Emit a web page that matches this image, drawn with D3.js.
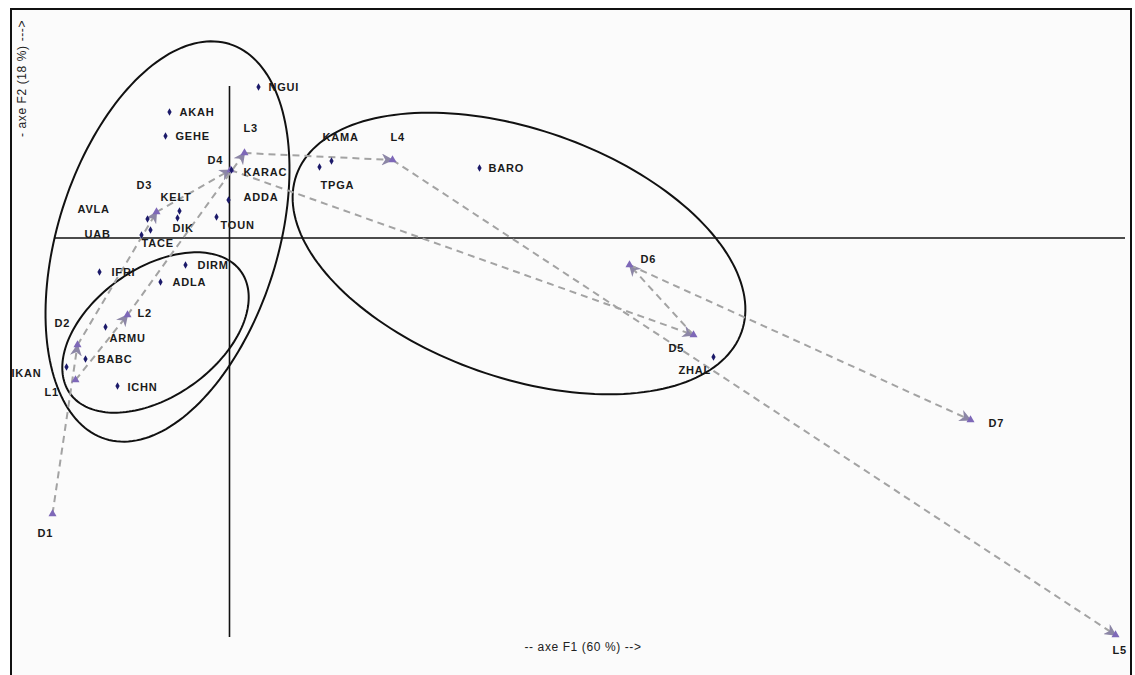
<!DOCTYPE html>
<html>
<head>
<meta charset="utf-8">
<script src="https://cdn.jsdelivr.net/npm/d3@7"></script>
<style>
  html, body { margin: 0; padding: 0; background: #ffffff; }
  svg { display: block; }
  text { font-family: "Liberation Sans", Arial, sans-serif; }
</style>
</head>
<body>
<svg id="chart" width="1135" height="675"></svg>
<script>
// Individuals: factorial coordinates on axes F1 and F2
const siteNames = ["NGUI","AKAH","GEHE","KARAC","ADDA","TOUN","KELT","DIK","AVLA","TACE","UAB",
                   "IFRI","DIRM","ADLA","ARMU","BABC","ICHN","IKAN","KAMA","TPGA","BARO","ZHAL"];
const siteF1 = [0.29,-0.60,-0.64,0.02,-0.01,-0.13,-0.50,-0.52,-0.82,-0.79,-0.88,
                -1.30,-0.44,-0.69,-1.24,-1.44,-1.12,-1.63,1.02,0.90,2.50,4.84];
const siteF2 = [1.51,1.26,1.02,0.68,0.38,0.21,0.27,0.20,0.19,0.08,0.03,
                -0.34,-0.27,-0.44,-0.89,-1.21,-1.48,-1.29,0.77,0.71,0.70,-1.19];

// Supplementary trajectories (D series and L series)
const dNames = ["D1","D2","D3","D4","D5","D6","D7"];
const dF1 = [-1.77,-1.52,-0.73,0.01,4.64,4.00,7.41];
const dF2 = [-2.76,-1.07,0.26,0.68,-0.97,-0.27,-1.82];
const lNames = ["L1","L2","L3","L4","L5"];
const lF1 = [-1.54,-1.02,0.15,1.63,8.86];
const lF2 = [-1.42,-0.77,0.85,0.78,-3.97];

// Group ellipses: centre (F1,F2), semi-axes, rotation in degrees
const ellipseCx = [-0.62,-0.74,2.895];
const ellipseCy = [-0.035,-0.945,-0.155];
const ellipseA = [2.07,1.05,2.36];
const ellipseB = [1.10,0.64,1.24];
const ellipseAngle = [72.5,35.5,-19.4];

// Axis extents and titles
const axisF1Extent = [-1.745, 8.955];
const axisF2Extent = [-3.99, 1.52];
const titleF1 = "-- axe F1 (60 %) -->";
const titleF2 = "- axe F2 (18 %) --->";

// Label placement (pixel offsets from the mark)
const labelOffset = {
  NGUI:[10,0], AKAH:[10,0], GEHE:[10,0], KARAC:[12,2], ADDA:[15,-3], TOUN:[4,8],
  KELT:[-19,-14], DIK:[-5,10], AVLA:[-70,-10], TACE:[-9,13], UAB:[-57,-1],
  IFRI:[12,0], DIRM:[12,0], ADLA:[12,0], ARMU:[4,11], BABC:[12,0], ICHN:[10,1],
  IKAN:[-55,6], KAMA:[-9,-24], TPGA:[1,18], BARO:[9,0], ZHAL:[-35,13],
  D1:[-15,19], D2:[-23,-22], D3:[-20,-27], D4:[-23,-10], D5:[-25,13], D6:[11,-6], D7:[18,3],
  L1:[-31,12], L2:[10,-2], L3:[-1,-25], L4:[-2,-23], L5:[-3,15]
};

const svg = d3.select("#chart");
const x = d3.scaleLinear().domain([-2, 9]).range([29.5, 1129.5]);
const y = d3.scaleLinear().domain([2, -4.5]).range([38, 688]);

// frame
svg.append("rect").attr("x", 11).attr("y", 9).attr("width", 1120).attr("height", 672)
  .attr("fill", "#fbfbfb").attr("stroke", "#111").attr("stroke-width", 2);

// axes through the origin
svg.append("line").attr("x1", x(axisF1Extent[0])).attr("x2", x(axisF1Extent[1]))
  .attr("y1", y(0)).attr("y2", y(0)).attr("stroke", "#111").attr("stroke-width", 1.6);
svg.append("line").attr("x1", x(0)).attr("x2", x(0))
  .attr("y1", y(axisF2Extent[0])).attr("y2", y(axisF2Extent[1])).attr("stroke", "#111").attr("stroke-width", 1.6);

// axis titles
svg.append("text").attr("x", 583).attr("y", 651)
  .attr("text-anchor", "middle").attr("font-size", 12).attr("letter-spacing", 0.6)
  .attr("fill", "#222").text(titleF1);
svg.append("text").attr("transform", "translate(26,137) rotate(-90)")
  .attr("text-anchor", "start").attr("font-size", 12).attr("letter-spacing", 0.6)
  .attr("fill", "#222").text(titleF2);

// ellipses
const ellipses = ellipseCx.map((c, i) => ({cx: c, cy: ellipseCy[i], a: ellipseA[i], b: ellipseB[i], ang: ellipseAngle[i]}));
const ellLine = d3.line().x(p => x(p[0])).y(p => y(p[1])).curve(d3.curveLinearClosed);
svg.selectAll("path.ell").data(ellipses).join("path").attr("class", "ell")
  .attr("d", e => {
    const th = e.ang * Math.PI / 180, pts = [];
    for (let k = 0; k < 180; k++) {
      const t = k / 180 * 2 * Math.PI;
      pts.push([e.cx + e.a * Math.cos(t) * Math.cos(th) - e.b * Math.sin(t) * Math.sin(th),
                e.cy + e.a * Math.cos(t) * Math.sin(th) + e.b * Math.sin(t) * Math.cos(th)]);
    }
    return ellLine(pts);
  })
  .attr("fill", "none").attr("stroke", "#111").attr("stroke-width", 2);

// arrow head marker
const defs = svg.append("defs");
defs.append("marker").attr("id", "arr").attr("viewBox", "0 0 10 10").attr("refX", 9).attr("refY", 5)
  .attr("markerWidth", 6).attr("markerHeight", 6).attr("markerUnits", "strokeWidth").attr("orient", "auto")
  .append("path").attr("d", "M0,0 L10,5 L0,10 L3,5 Z").attr("fill", "#8c86a6");

// trajectories
function drawSeries(names, f1, f2) {
  const pts = names.map((n, i) => ({name: n, f1: f1[i], f2: f2[i]}));
  const segs = d3.pairs(pts);
  svg.append("g").selectAll("line").data(segs).join("line")
    .attr("x1", s => x(s[0].f1)).attr("y1", s => y(s[0].f2))
    .attr("x2", s => x(s[1].f1)).attr("y2", s => y(s[1].f2))
    .attr("stroke", "#a3a3a3").attr("stroke-width", 2).attr("stroke-dasharray", "7,5")
    .attr("marker-end", "url(#arr)");
  return pts;
}
const dPts = drawSeries(dNames, dF1, dF2);
const lPts = drawSeries(lNames, lF1, lF2);
const supPts = dPts.concat(lPts);

const tri = d3.symbol().type(d3.symbolTriangle).size(28);
svg.append("g").selectAll("path").data(supPts).join("path")
  .attr("transform", p => `translate(${x(p.f1)},${y(p.f2)})`)
  .attr("d", tri).attr("fill", "#7e68b8");

// individuals
const sites = siteNames.map((n, i) => ({name: n, f1: siteF1[i], f2: siteF2[i]}));
const dia = d3.symbol().type(d3.symbolDiamond).size(16);
svg.append("g").selectAll("path").data(sites).join("path")
  .attr("transform", p => `translate(${x(p.f1)},${y(p.f2)})`)
  .attr("d", dia).attr("fill", "#1c1a6a");

// labels
svg.append("g").selectAll("text").data(sites.concat(supPts)).join("text")
  .attr("x", p => x(p.f1) + labelOffset[p.name][0])
  .attr("y", p => y(p.f2) + labelOffset[p.name][1] + 4)
  .attr("font-size", 11).attr("font-weight", "bold").attr("letter-spacing", 0.8)
  .attr("fill", "#1a1a1a").text(p => p.name);
</script>
</body>
</html>
